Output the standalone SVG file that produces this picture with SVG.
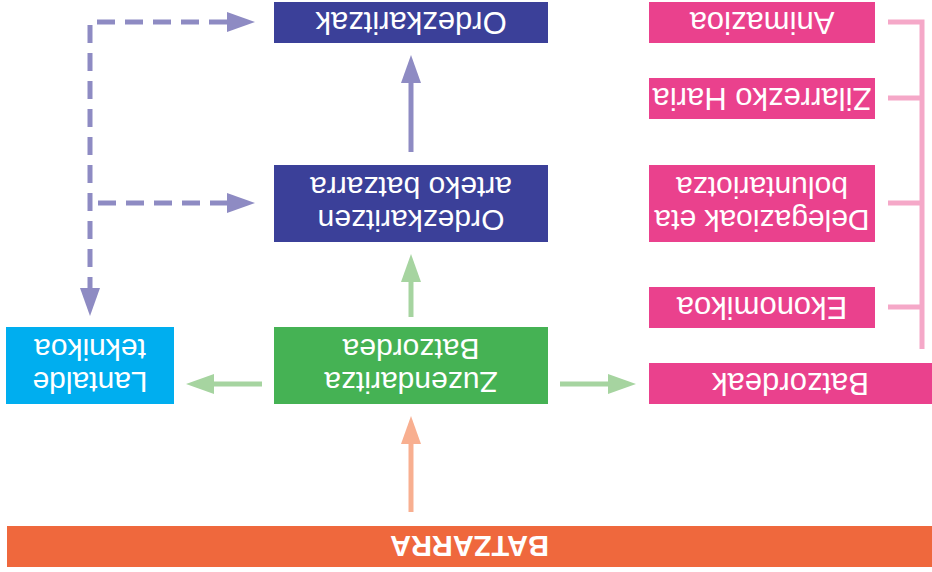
<svg xmlns="http://www.w3.org/2000/svg" width="932" height="572" viewBox="0 0 932 572">
<style>
.t{font-family:"Liberation Sans",Arial,sans-serif;font-size:31px;fill:#fff;text-anchor:middle}
.t2{font-size:30px}
.b{font-weight:bold;font-size:29px}
.pu{fill:#3B4099}.pk{fill:#EA418D}.gr{fill:#45B254}.cy{fill:#00AEEF}.or{fill:#EF683D}
.ap{stroke:#8E8BC3;stroke-width:5;fill:none}
.ag{stroke:#A6D4A0;stroke-width:5;fill:none}
.ao{stroke:#F8AF90;stroke-width:5;fill:none}
.dash{stroke-dasharray:18 10}
.br{stroke:#F5A8C8;stroke-width:5;fill:none}
</style>
<defs>
<marker id="mp" markerUnits="userSpaceOnUse" markerWidth="28" markerHeight="20" refX="0" refY="10" orient="auto-start-reverse"><path d="M0,0 L28,10 L0,20 z" fill="#8E8BC3"/></marker>
<marker id="mg" markerUnits="userSpaceOnUse" markerWidth="28" markerHeight="20" refX="0" refY="10" orient="auto"><path d="M0,0 L28,10 L0,20 z" fill="#A6D4A0"/></marker>
<marker id="mo" markerUnits="userSpaceOnUse" markerWidth="28" markerHeight="20" refX="0" refY="10" orient="auto"><path d="M0,0 L28,10 L0,20 z" fill="#F8AF90"/></marker>
</defs>
<g id="connectors">
<path class="ap" d="M411,152 V83" marker-end="url(#mp)"/>
<path class="ap dash" d="M227,22 H90 V288" marker-start="url(#mp)" marker-end="url(#mp)"/>
<path class="ap dash" d="M98,203 H227" marker-end="url(#mp)"/>
<path class="ag" d="M411,317 V282" marker-end="url(#mg)"/>
<path class="ag" d="M262,384 H214" marker-end="url(#mg)"/>
<path class="ag" d="M560,384 H608" marker-end="url(#mg)"/>
<path class="ao" d="M411,512 V444" marker-end="url(#mo)"/>
<path class="br" d="M888,22 H922 V349 M888,98 H922 M888,203 H922 M888,307 H922"/>
</g>
<g id="ordezkaritzak"><rect class="pu" x="274" y="2" width="274" height="41"/><text class="t" x="411" y="33.5" transform="rotate(180 411 22.5)">Ordezkaritzak</text></g>
<g id="ordezkaritzen"><rect class="pu" x="274" y="165" width="274" height="77"/><text class="t t2" transform="rotate(180 411 203.5)"><tspan x="411" y="197">Ordezkaritzen</tspan><tspan x="411" y="230">arteko batzarra</tspan></text></g>
<g id="zuzendaritza"><rect class="gr" x="274" y="327" width="274" height="77"/><text class="t t2" transform="rotate(180 411 365.5)"><tspan x="411" y="359">Zuzendaritza</tspan><tspan x="411" y="392">Batzordea</tspan></text></g>
<g id="lantalde"><rect class="cy" x="6" y="327" width="168" height="77"/><text class="t t2" transform="rotate(180 90 365.5)"><tspan x="90" y="359">Lantalde</tspan><tspan x="90" y="392">teknikoa</tspan></text></g>
<g id="animazioa"><rect class="pk" x="649" y="2" width="226" height="41"/><text class="t" x="762" y="33.5" transform="rotate(180 762 22.5)">Animazioa</text></g>
<g id="zilarrezko"><rect class="pk" x="649" y="78" width="226" height="41"/><text class="t" x="762" y="109.5" transform="rotate(180 762 98.5)">Zilarrezko Haria</text></g>
<g id="delegazioak"><rect class="pk" x="649" y="165" width="226" height="77"/><text class="t t2" transform="rotate(180 762 203.5)"><tspan x="762" y="197">Delegazioak eta</tspan><tspan x="762" y="230">boluntariotza</tspan></text></g>
<g id="ekonomikoa"><rect class="pk" x="649" y="287" width="226" height="41"/><text class="t" x="762" y="318.5" transform="rotate(180 762 307.5)">Ekonomikoa</text></g>
<g id="batzordeak"><rect class="pk" x="649" y="363" width="283" height="41"/><text class="t" x="790.5" y="394.5" transform="rotate(180 790.5 383.5)">Batzordeak</text></g>
<g id="batzarra"><rect class="or" x="7" y="526" width="925" height="41"/><text class="t b" x="469.5" y="557" transform="rotate(180 469.5 546.5)">BATZARRA</text></g>
</svg>
